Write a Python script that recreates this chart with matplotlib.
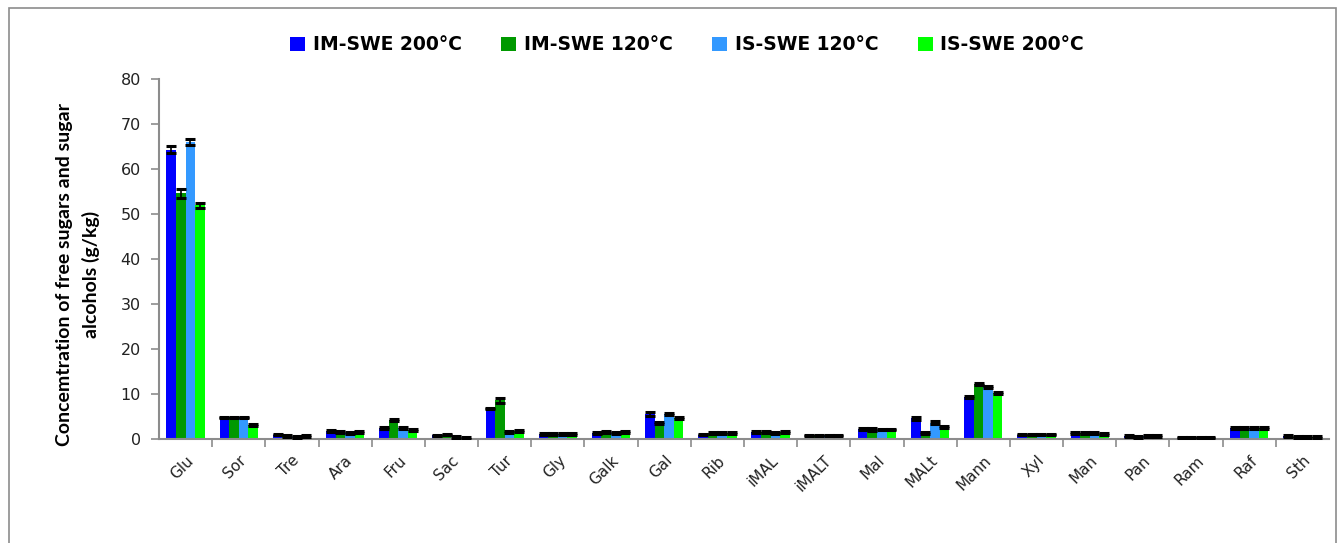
import matplotlib
matplotlib.use("Agg")
import matplotlib.pyplot as plt
from matplotlib.patches import Rectangle
import numpy as np

categories = ["Glu", "Sor", "Tre", "Ara", "Fru", "Sac", "Tur", "Gly", "Galk", "Gal", "Rib",
              "iMAL", "iMALT", "Mal", "MALt", "Mann", "Xyl", "Man", "Pan", "Ram", "Raf", "Sth"]

im_swe_200 = [64.3, 4.8, 1.0, 1.8, 2.4, 0.8, 6.8, 1.2, 1.4, 5.6, 1.0,
              1.6, 0.8, 2.2, 4.6, 9.4, 1.0, 1.4, 0.6, 0.3, 2.4, 0.6]
im_swe_120 = [54.6, 4.8, 0.6, 1.6, 4.2, 1.0, 8.6, 1.2, 1.6, 3.6, 1.3,
              1.6, 0.8, 2.1, 1.4, 12.3, 1.0, 1.4, 0.4, 0.3, 2.4, 0.4]
is_swe_120 = [66.0, 4.8, 0.4, 1.3, 2.4, 0.4, 1.5, 1.2, 1.4, 5.6, 1.3,
              1.3, 0.8, 2.1, 3.6, 11.5, 1.0, 1.4, 0.6, 0.3, 2.4, 0.4]
is_swe_200 = [51.9, 3.2, 0.6, 1.5, 2.0, 0.3, 1.7, 1.2, 1.6, 4.6, 1.3,
              1.6, 0.8, 2.1, 2.6, 10.2, 1.0, 1.2, 0.6, 0.3, 2.4, 0.4]

err_im_200 = [0.8, 0.2, 0.2, 0.2, 0.2, 0.2, 0.2, 0.2, 0.2, 0.4, 0.2,
              0.2, 0.2, 0.2, 0.3, 0.2, 0.2, 0.2, 0.2, 0.1, 0.2, 0.2]
err_im_120 = [1.0, 0.2, 0.2, 0.2, 0.2, 0.2, 0.6, 0.2, 0.2, 0.2, 0.2,
              0.2, 0.2, 0.3, 0.2, 0.2, 0.2, 0.2, 0.2, 0.1, 0.2, 0.2]
err_is_120 = [0.7, 0.2, 0.2, 0.2, 0.2, 0.2, 0.2, 0.2, 0.2, 0.2, 0.2,
              0.2, 0.2, 0.2, 0.3, 0.2, 0.2, 0.2, 0.2, 0.1, 0.2, 0.2]
err_is_200 = [0.6, 0.2, 0.2, 0.2, 0.2, 0.2, 0.2, 0.2, 0.2, 0.2, 0.2,
              0.2, 0.2, 0.2, 0.2, 0.2, 0.2, 0.2, 0.2, 0.1, 0.2, 0.2]

series = [
    ("IM-SWE 200°C", im_swe_200, err_im_200, "#0000FF"),
    ("IM-SWE 120°C", im_swe_120, err_im_120, "#009900"),
    ("IS-SWE 120°C", is_swe_120, err_is_120, "#3399FF"),
    ("IS-SWE 200°C", is_swe_200, err_is_200, "#00FF00"),
]

fig = plt.figure(figsize=(13.42, 5.43), dpi=100)
ax = fig.add_axes([159 / 1342, 1 - 439 / 543, 1170 / 1342, 360 / 543])

# grey frame around the whole chart
fig.patches.append(Rectangle((9 / 1342, -0.1), 1327 / 1342, 1.1 - 8 / 543,
                             transform=fig.transFigure, fill=False,
                             edgecolor="#8c8c8c", linewidth=1.2))

x = np.arange(len(categories))
w = 0.18
for i, (name, vals, errs, col) in enumerate(series):
    pos = x + (i - 1.5) * w
    ax.bar(pos, vals, width=w, color=col, label=name, zorder=2)
    ax.errorbar(pos, vals, yerr=errs, fmt="none", ecolor="black",
                elinewidth=1.2, capsize=3.4, capthick=2.2, zorder=3)

gray = "#8c8c8c"
ax.set_xlim(-0.5, len(categories) - 0.5)
ax.set_ylim(0, 80)
ax.set_yticks(range(0, 81, 10))
ax.tick_params(axis="y", colors=gray, labelcolor="#222222", labelsize=11.5,
               length=6, width=1.2, direction="out", pad=7)
ax.set_xticks(x)
ax.set_xticklabels(categories, rotation=45, ha="right", rotation_mode="anchor",
                   fontsize=11, color="#222222")
ax.tick_params(axis="x", which="major", length=0, pad=10)
ax.set_xticks(np.arange(0.5, len(categories) - 0.5, 1), minor=True)
ax.tick_params(axis="x", which="minor", length=6, width=1.2, colors=gray,
               direction="out")

for side in ["top", "right"]:
    ax.spines[side].set_visible(False)
for side in ["left", "bottom"]:
    ax.spines[side].set_color(gray)
    ax.spines[side].set_linewidth(1.5)

ax.set_ylabel("Concemtration of free sugars and sugar\nalcohols (g/kg)",
              fontsize=14, fontweight="bold", family="Lato",
              linespacing=1.6)
ax.yaxis.set_label_coords(-59 / 1170, 0.456)

leg = fig.legend(loc="center", bbox_to_anchor=(0.512, 1 - 45 / 543), ncol=4,
                 frameon=False, handlelength=0.8, handleheight=0.7,
                 handletextpad=0.4, columnspacing=2.1,
                 prop={"family": "DejaVu Sans", "weight": "bold", "size": 13.5})

fig.savefig("out.png", dpi=100)
